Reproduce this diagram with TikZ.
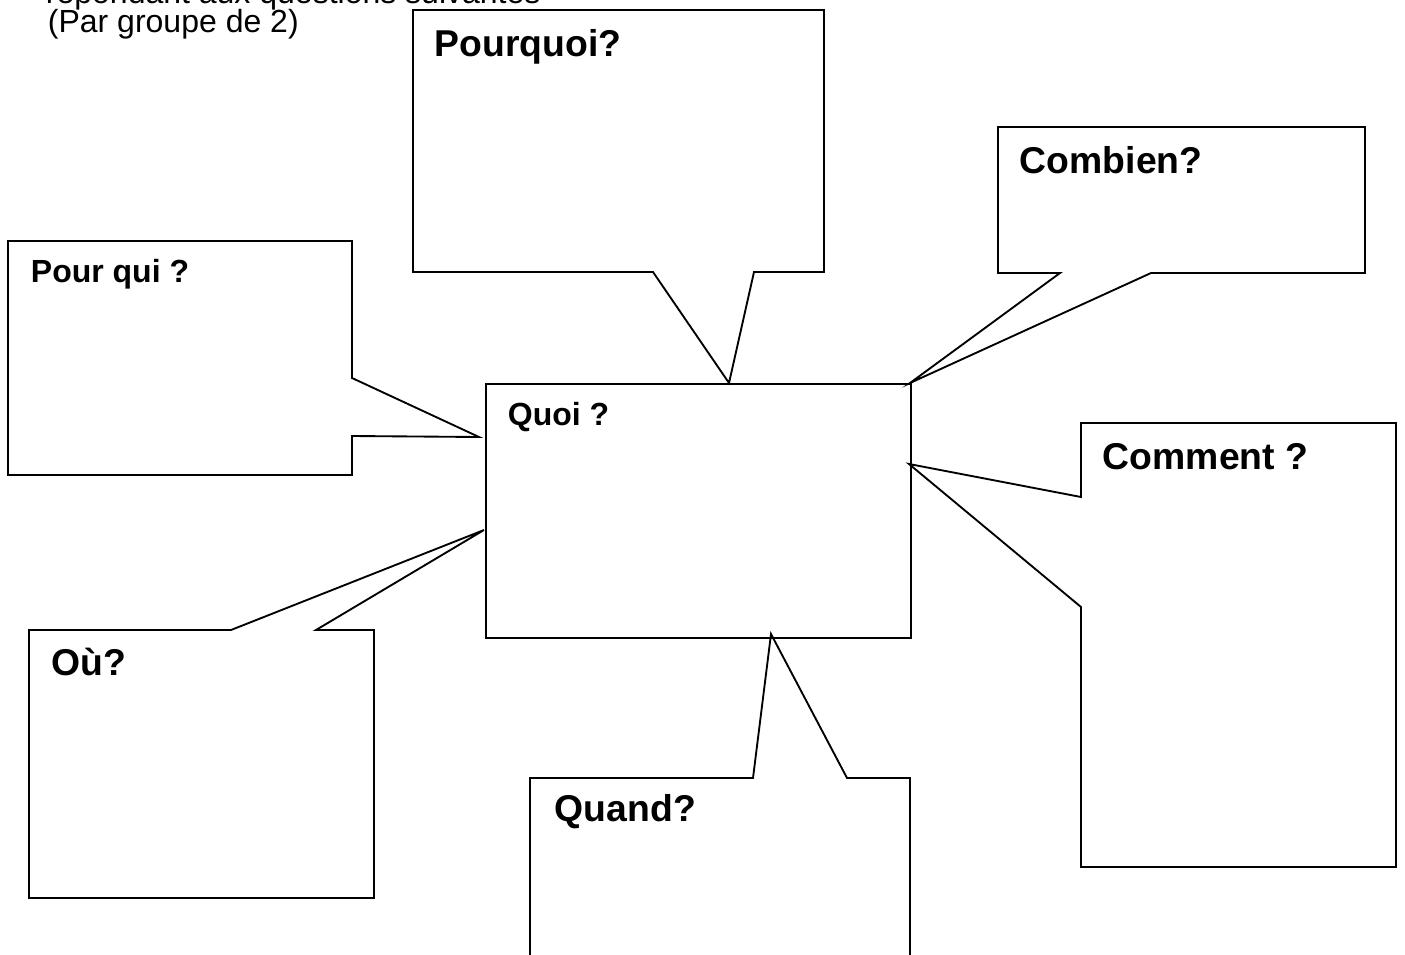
\documentclass[tikz,border=0pt]{standalone}
\usepackage{fontspec}
\setmainfont{Liberation Sans}
\begin{document}
\begin{tikzpicture}[x=0.75pt,y=-0.75pt, line width=1.4pt, line join=miter,
  bubble/.style={draw=black},
  bigq/.style={anchor=base west, inner sep=0pt, font=\fontsize{28}{33}\selectfont\bfseries},
  smallq/.style={anchor=base west, inner sep=0pt, font=\fontsize{24}{28}\selectfont\bfseries},
  plaintxt/.style={anchor=base west, inner sep=0pt, font=\fontsize{24}{28}\selectfont}]
\useasboundingbox (0,0) rectangle (1405,955);

% header text (partly cut off at the top, as in the reference)
\node[plaintxt] (hdr1) at (45,4) {répondant aux questions suivantes};
\node[plaintxt] (hdr2) at (47,33) {(Par groupe de 2)};

% central box
\node[draw=black, line width=1.4pt, minimum width=425*0.75pt, minimum height=254*0.75pt, inner sep=0pt, anchor=north west] (quoi) at (485,383) {};
\coordinate (tPq) at (729,383);
\coordinate (tCb) at (910,383);
\coordinate (tPqui) at (479,437);
\coordinate (tCm) at (909,464);
\coordinate (tOu) at (484,530);
\coordinate (tQd) at (771,634);

% Pourquoi
\draw[bubble] (413,10) -- (824,10) -- (824,272) -- (754,272) -- (tPq) -- (653,272) -- (413,272) -- cycle;
% Combien
\draw[bubble] (998,127) -- (1365,127) -- (1365,273) -- (1151,273) -- (tCb) -- (1060,273) -- (998,273) -- cycle;
% Pour qui
\draw[bubble] (8,241) -- (352,241) -- (352,378) -- (tPqui) -- (352,436) -- (352,475) -- (8,475) -- cycle;
% Comment
\draw[bubble] (1081,423) -- (1396,423) -- (1396,867) -- (1081,867) -- (1081,607) -- (tCm) -- (1081,497) -- cycle;
% Ou
\draw[bubble] (29,630) -- (231,630) -- (tOu) -- (316,630) -- (374,630) -- (374,898) -- (29,898) -- cycle;
% Quand (open at the bottom)
\draw[bubble] (530,970) -- (530,778) -- (753,778) -- (tQd) -- (847,778) -- (910,778) -- (910,970);

% labels
\node[bigq] (lPq) at (434,57) {Pourquoi?};
\node[bigq] (lCb) at (1019,174) {Combien?};
\node[smallq] (lPqui) at (30,283) {Pour qui ?};
\node[smallq] (lQuoi) at (507,425) {Quoi ?};
\node[bigq] (lCm) at (1102,469) {Comment ?};
\node[bigq] (lOu) at (51,675) {Où?};
\node[bigq] (lQd) at (554,821) {Quand?};
\end{tikzpicture}
\end{document}
